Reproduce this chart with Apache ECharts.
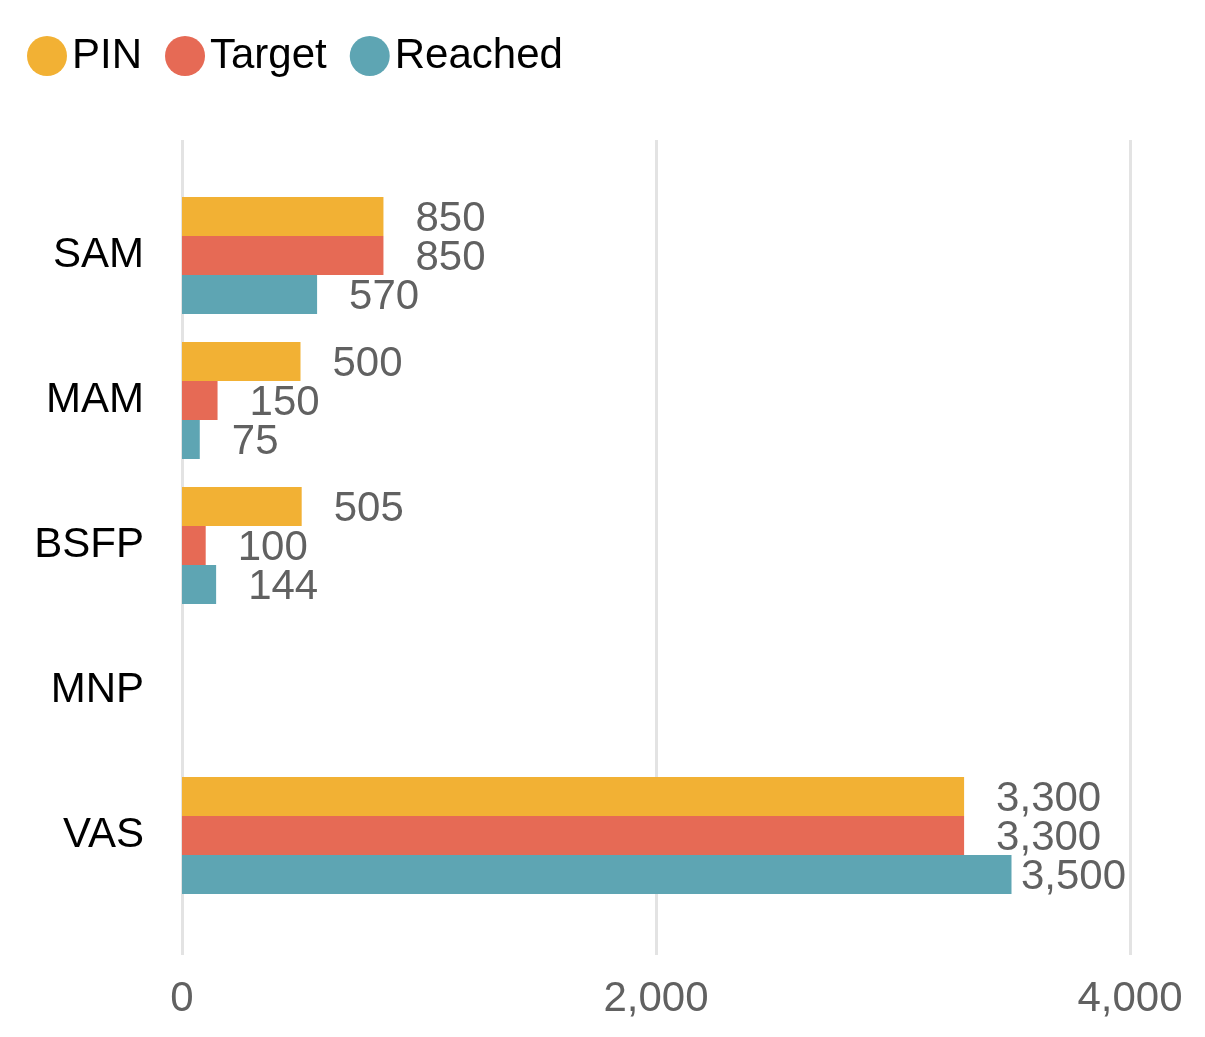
<!DOCTYPE html>
<html>
<head>
<meta charset="utf-8">
<script src="https://cdn.jsdelivr.net/npm/echarts@6/dist/echarts.min.js"></script>
<style>
  html, body { margin: 0; padding: 0; background: #fff; }
  #chart { width: 1205px; height: 1037px; }
</style>
</head>
<body>
<div id="chart"></div>
<script>
var categories = ["SAM", "MAM", "BSFP", "MNP", "VAS"];
var pinValues = [850, 500, 505, null, 3300];
var targetValues = [850, 150, 100, null, 3300];
var reachedValues = [570, 75, 144, null, 3500];
var xTicks = [0, 2000, 4000];

var myChart = echarts.init(document.getElementById("chart"));

var font = "'Liberation Sans', Arial, sans-serif";
var plotLeft = 182, plotWidth = 948;
var labelSize = 42, labelGap = 32;

// measure label text so that labels near the right edge stay inside the plot
var ctx = document.createElement("canvas").getContext("2d");
ctx.font = labelSize + "px " + font;

function fmt(v) {
    return v.toLocaleString("en-US");
}

function barData(values) {
    var xMax = xTicks[xTicks.length - 1];
    return values.map(function (v) {
        if (v == null) return null;
        var end = plotLeft + v / xMax * plotWidth;
        var w = ctx.measureText(fmt(v)).width;
        var room = plotLeft + plotWidth - 4 - end - w;
        return {
            value: v,
            label: { distance: Math.max(4, Math.min(labelGap, room)) }
        };
    });
}

function barSeries(name, color, values) {
    return {
        name: name,
        type: "bar",
        xAxisIndex: 1,
        yAxisIndex: 1,
        data: barData(values),
        barWidth: 39,
        barGap: "0%",
        itemStyle: { color: color },
        label: {
            show: true,
            position: "right",
            offset: [0, 3],
            color: "#616161",
            fontSize: labelSize,
            fontFamily: font,
            formatter: function (p) {
                return p.value == null ? "" : fmt(p.value);
            }
        }
    };
}

var option = {
    animation: false,
    textStyle: { fontFamily: font },
    legend: {
        left: 27,
        top: 35,
        padding: 0,
        icon: "circle",
        itemWidth: 40,
        itemHeight: 40,
        itemGap: 23,
        textStyle: { fontSize: 42, color: "#000", fontFamily: font },
        data: ["PIN", "Target", "Reached"]
    },
    grid: [
        { left: plotLeft, width: plotWidth, top: 140, height: 815 },
        { left: plotLeft, width: plotWidth, top: 183, height: 725 }
    ],
    xAxis: [
        {
            gridIndex: 0,
            type: "value",
            min: xTicks[0],
            max: xTicks[xTicks.length - 1],
            interval: 2000,
            axisLine: { show: false },
            axisTick: { show: false },
            splitLine: { lineStyle: { color: "#e3e3e3", width: 3 } },
            axisLabel: {
                margin: 23,
                fontSize: 42,
                color: "#616161",
                fontFamily: font,
                formatter: fmt
            }
        },
        {
            gridIndex: 1,
            type: "value",
            min: 0,
            max: xTicks[xTicks.length - 1],
            show: false
        }
    ],
    yAxis: [
        {
            gridIndex: 0,
            type: "category",
            data: [""],
            show: false
        },
        {
            gridIndex: 1,
            type: "category",
            data: categories,
            inverse: true,
            axisLine: { show: false },
            axisTick: { show: false },
            axisLabel: {
                margin: 38,
                fontSize: 42,
                color: "#000",
                fontFamily: font
            }
        }
    ],
    series: [
        barSeries("PIN", "#F2B134", pinValues),
        barSeries("Target", "#E66A55", targetValues),
        barSeries("Reached", "#5EA5B3", reachedValues)
    ]
};

myChart.setOption(option);
</script>
</body>
</html>
